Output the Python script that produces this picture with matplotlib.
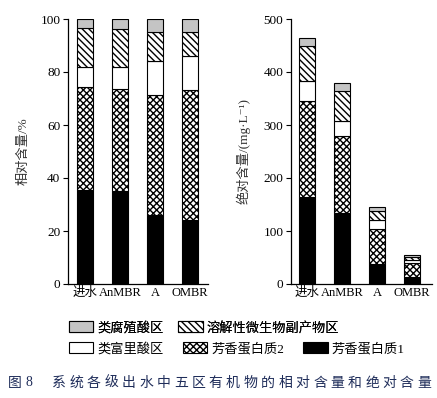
import matplotlib
matplotlib.use('Agg')
import matplotlib.pyplot as plt
from matplotlib.patches import Patch
import numpy as np

plt.rcParams['font.family'] = ['Liberation Serif', 'Noto Sans CJK SC', 'DejaVu Serif']
plt.rcParams['hatch.linewidth'] = 1.0
plt.rcParams['axes.linewidth'] = 0.9

categories = ['进水', 'AnMBR', 'A', 'OMBR']
series_names = ['芳香蛋白质1', '芳香蛋白质2', '类富里酸区', '溶解性微生物副产物区', '类腐殖酸区']

# relative content, %
rel_p1 = [35.3, 35.0, 25.9, 24.2]
rel_p2 = [39.2, 38.5, 45.6, 49.0]
rel_fa = [7.5, 8.2, 12.5, 12.8]
rel_smp = [14.5, 14.5, 11.0, 9.2]
rel_ha = [3.5, 3.8, 5.0, 4.8]

# absolute content, mg/L
abs_p1 = [164, 134, 38, 13]
abs_p2 = [182, 146, 66, 27]
abs_fa = [37, 28, 17, 6]
abs_smp = [66, 56, 17, 5]
abs_ha = [16, 15, 7, 4]

styles = [
    dict(color='black', hatch=None),
    dict(color='white', hatch='xxxxx'),
    dict(color='white', hatch=None),
    dict(color='white', hatch='\\\\\\\\\\'),
    dict(color='#c4c4c4', hatch=None),
]

W, H = 437, 398
fig = plt.figure(figsize=(W / 100, H / 100), dpi=100)
ax1 = fig.add_axes([68 / W, 1 - 284 / H, 140 / W, 265 / H])
ax2 = fig.add_axes([291 / W, 1 - 284 / H, 141 / W, 265 / H])


def stack(ax, layers):
    x = np.arange(len(categories))
    bottom = np.zeros(len(categories))
    for vals, st in zip(layers, styles):
        ax.bar(x, vals, 0.46, bottom=bottom, color=st['color'], hatch=st['hatch'],
               edgecolor='black', linewidth=0.8)
        bottom += np.array(vals)
    ax.set_xticks(x)
    ax.set_xticklabels(categories, fontsize=9)
    ax.tick_params(axis='x', length=0, pad=2)
    ax.tick_params(axis='y', direction='out', length=3.5, width=0.8, labelsize=9.5, pad=2)
    for s in ['top', 'right']:
        ax.spines[s].set_visible(False)


stack(ax1, [rel_p1, rel_p2, rel_fa, rel_smp, rel_ha])
ax1.set_ylim(0, 100)
ax1.set_yticks([0, 20, 40, 60, 80, 100])
ax1.set_xlim(-0.49, 3.51)
ax1.set_ylabel('相对含量/%', fontsize=9.5, labelpad=8, color='#333333')

stack(ax2, [abs_p1, abs_p2, abs_fa, abs_smp, abs_ha])
ax2.set_ylim(0, 500)
ax2.set_yticks([0, 100, 200, 300, 400, 500])
ax2.set_xlim(-0.46, 3.57)
ax2.set_ylabel('绝对含量/(mg·L⁻¹)', fontsize=9.5, labelpad=9, color='#333333')

handles = [Patch(facecolor=st['color'], hatch=st['hatch'], edgecolor='black', linewidth=0.8)
           for st in styles]
legkw = dict(frameon=False, fontsize=9.5, handlelength=1.85, handleheight=0.9,
             handletextpad=0.3, borderpad=0, borderaxespad=0, loc='center left')
leg1 = fig.legend([handles[4], handles[3]], [series_names[4], series_names[3]], ncol=2,
                  columnspacing=1.1, bbox_to_anchor=(69 / W, 1 - 328 / H), **legkw)
leg2 = fig.legend([handles[2], handles[1], handles[0]], [series_names[2], series_names[1], series_names[0]],
                  ncol=3, columnspacing=1.45, bbox_to_anchor=(69 / W, 1 - 349 / H), **legkw)
fig.add_artist(leg1)

# caption with wide letter spacing
cap_color = '#1f2d5a'
fig.text(8 / W, 1 - 383 / H, '图', fontsize=10, color=cap_color, va='center')
fig.text(26 / W, 1 - 383 / H, '8', fontsize=10, color=cap_color, va='center')
caption = '系统各级出水中五区有机物的相对含量和绝对含量'
for i, ch in enumerate(caption):
    fig.text((52 + 17.4 * i) / W, 1 - 383 / H, ch, fontsize=10, color=cap_color, va='center')

fig.savefig('out.png', dpi=100)
